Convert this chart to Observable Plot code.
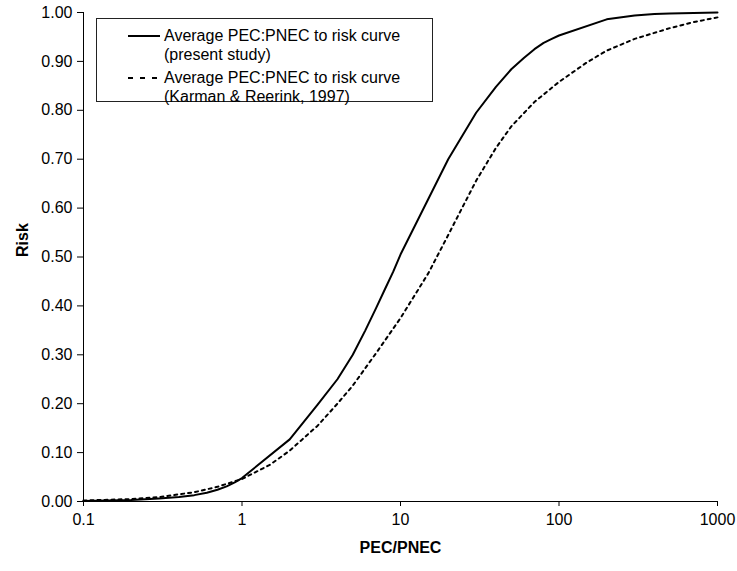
<!DOCTYPE html>
<html>
<head>
<meta charset="utf-8">
<script src="https://cdn.jsdelivr.net/npm/d3@7"></script>
<script src="https://cdn.jsdelivr.net/npm/@observablehq/plot@0.6"></script>
<style>
  html, body { margin: 0; padding: 0; background: #fff; }
  #wrap { position: relative; width: 737px; height: 571px; font-family: "Liberation Sans", Arial, sans-serif; }
  #legend { position: absolute; left: 96px; top: 18px; width: 337px; height: 84px; border: 1px solid #222; background: #fff; box-sizing: border-box; }
  #legend .t { position: absolute; left: 67px; font-size: 16px; line-height: 18px; color: #000; white-space: nowrap; }
  #legend svg { position: absolute; left: 31px; }
</style>
</head>
<body>
<div id="wrap"></div>
<script>
// PEC/PNEC values and risk, present study (solid)
const solidX = [0.1,0.2,0.3,0.4,0.5,0.6,0.7,0.8,0.9,1,2,3,4,5,6,7,8,9,10,20,30,40,50,60,70,80,90,100,200,300,400,500,1000];
const solidY = [0.001,0.003,0.006,0.009,0.013,0.018,0.024,0.031,0.039,0.048,0.127,0.198,0.25,0.30,0.35,0.395,0.435,0.47,0.505,0.70,0.795,0.848,0.884,0.907,0.925,0.938,0.946,0.953,0.986,0.994,0.997,0.998,1.0];
// Karman & Reerink, 1997 (dashed)
const dashX = [0.1,0.2,0.3,0.5,0.7,1,1.5,2,3,4,5,7,10,15,20,30,40,50,70,100,150,200,300,500,700,1000];
const dashY = [0.002,0.005,0.009,0.019,0.03,0.046,0.075,0.104,0.155,0.200,0.237,0.303,0.375,0.467,0.545,0.656,0.723,0.767,0.817,0.858,0.898,0.922,0.946,0.968,0.98,0.99];
const xTicks = [0.1,1,10,100,1000];
const yTicks = [0,0.1,0.2,0.3,0.4,0.5,0.6,0.7,0.8,0.9,1.0];
const legendLabels = [["Average PEC:PNEC to risk curve","(present study)"],["Average PEC:PNEC to risk curve","(Karman & Reerink, 1997)"]];

const solid = solidX.map((x,i)=>({x, y: solidY[i]}));
const dashed = dashX.map((x,i)=>({x, y: dashY[i]}));

const font = '"Liberation Sans", Arial, sans-serif';
const chart = Plot.plot({
  width: 737, height: 571,
  marginLeft: 83, marginRight: 20, marginTop: 12, marginBottom: 70,
  style: {fontFamily: font, fontSize: "16px", color: "#000", background: "#fff"},
  x: {type: "log", domain: [0.1, 1000]},
  y: {domain: [0, 1]},
  marks: [
    Plot.axisX({ticks: xTicks, tickFormat: d => String(d), tickSize: 5, tickPadding: 7, fontSize: 16, label: null, stroke: "#000"}),
    Plot.axisY({ticks: yTicks, tickFormat: d3.format(".2f"), tickSize: 6, tickPadding: 5, fontSize: 16, label: null, stroke: "#000"}),
    Plot.ruleX([0.1], {stroke: "#000", strokeWidth: 1}),
    Plot.ruleY([0], {stroke: "#000", strokeWidth: 1}),
    Plot.line(dashed, {x: "x", y: "y", stroke: "#000", strokeWidth: 2, strokeDasharray: "3,4"}),
    Plot.line(solid, {x: "x", y: "y", stroke: "#000", strokeWidth: 2}),
    Plot.text(["Risk"], {frameAnchor: "left", dx: -61, rotate: -90, fontWeight: "bold", fontSize: 16, fill: "#000"}),
    Plot.text(["PEC/PNEC"], {frameAnchor: "bottom", dy: 51, fontWeight: "bold", fontSize: 16, fill: "#000"})
  ]
});
const wrap = document.getElementById("wrap");
wrap.appendChild(chart);

const legend = document.createElement("div");
legend.id = "legend";
const rows = [{top: 8, dash: null}, {top: 50, dash: "5,7"}];
legendLabels.forEach((lines, i) => {
  const r = rows[i];
  const s = document.createElementNS("http://www.w3.org/2000/svg", "svg");
  s.setAttribute("width", 32); s.setAttribute("height", 6);
  s.style.top = (r.top + 6) + "px";
  const l = document.createElementNS("http://www.w3.org/2000/svg", "line");
  l.setAttribute("x1", 0); l.setAttribute("x2", 32); l.setAttribute("y1", 3); l.setAttribute("y2", 3);
  l.setAttribute("stroke", "#000"); l.setAttribute("stroke-width", 2);
  if (r.dash) l.setAttribute("stroke-dasharray", r.dash);
  s.appendChild(l);
  legend.appendChild(s);
  lines.forEach((txt, j) => {
    const t = document.createElement("div");
    t.className = "t";
    t.style.top = (r.top + j * 19) + "px";
    t.textContent = txt;
    legend.appendChild(t);
  });
});
wrap.appendChild(legend);
</script>
</body>
</html>
